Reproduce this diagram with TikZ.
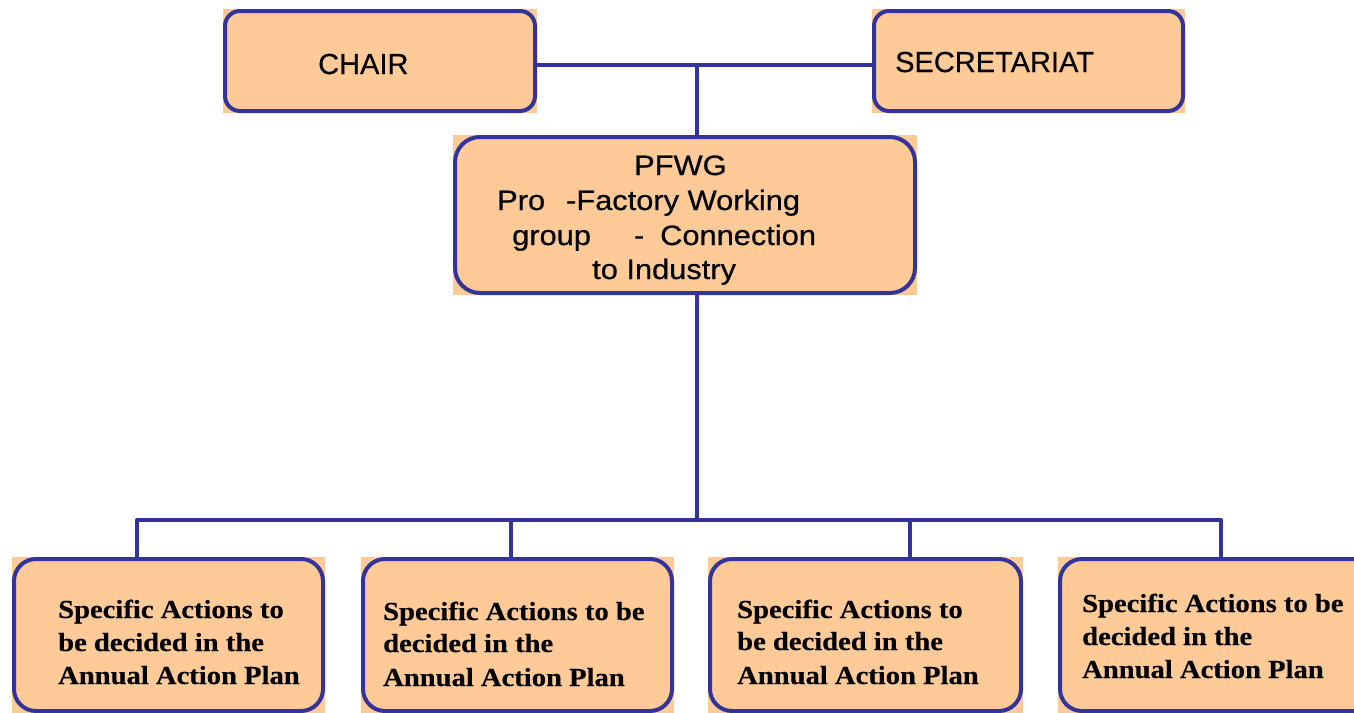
\documentclass[tikz,border=0pt]{standalone}
\usepackage{fontspec}
\setmainfont{Liberation Sans}
\newfontfamily\topfont[FakeBold=0.4]{Liberation Sans}
\newfontfamily\midfont[FakeStretch=1.1,FakeBold=0.6]{Liberation Sans}
\newfontfamily\lowfont[FakeStretch=1.1,FakeBold=0.4]{Liberation Serif Bold}
\usetikzlibrary{backgrounds}
\definecolor{peach}{HTML}{FECB98}
\definecolor{navy}{HTML}{333399}
\tikzset{
  orgbox/.style={draw=navy, line width=4pt, fill=peach, rounded corners=#1,
    inner sep=0pt, anchor=north west},
  conn/.style={draw=navy, line width=4pt, line join=round},
  toplbl/.style={anchor=base west, inner sep=0pt, font=\topfont\fontsize{29}{35}\selectfont},
  midlbl/.style={anchor=base west, inner sep=0pt, font=\midfont\fontsize{28}{35}\selectfont},
  lowlbl/.style={anchor=base west, inner sep=0pt, font=\lowfont\fontsize{26}{33}\selectfont},
}
\begin{document}
\begin{tikzpicture}[x=1pt,y=-1pt]
\useasboundingbox (0,0) rectangle (1354,712);
\clip (0,0) rectangle (1354,712);
% boxes
\node[orgbox=15pt, minimum width=310pt, minimum height=100pt] (chair) at (223,9) {};
\node[orgbox=15pt, minimum width=309pt, minimum height=100pt] (secr) at (872,9) {};
\node[orgbox=25pt, minimum width=460pt, minimum height=156pt] (pfwg) at (453,135) {};
\node[orgbox=22pt, minimum width=309pt, minimum height=152pt] (b1) at (12,557) {};
\node[orgbox=22pt, minimum width=309pt, minimum height=152pt] (b2) at (361,557) {};
\node[orgbox=22pt, minimum width=311pt, minimum height=152pt] (b3) at (708,557) {};
\node[orgbox=22pt, minimum width=330pt, minimum height=152pt] (b4) at (1058,557) {};
% square fill behind the rounded corners
\begin{scope}[on background layer]
  \foreach \n in {chair,secr,pfwg,b1,b2,b3,b4}
    \fill[peach] (\n.north west) rectangle (\n.south east);
\end{scope}
% connectors
\coordinate (top) at (697,65);
\coordinate (bus) at (697,520);
\coordinate (d1) at (137,520);
\coordinate (d2) at (511,520);
\coordinate (d3) at (910,520);
\coordinate (d4) at (1221,520);
\draw[conn] (chair.east |- top) -- (secr.west |- top);
\draw[conn] (top) -- (pfwg.north -| top);
\draw[conn] (pfwg.south -| bus) -- (bus);
\draw[conn] (b1.north -| d1) -- (d1) -- (d4) -- (b4.north -| d4);
\draw[conn] (d2) -- (b2.north -| d2);
\draw[conn] (d3) -- (b3.north -| d3);
% labels
\node[toplbl] (chairlbl) at (318,74) {CHAIR};
\node[toplbl] (secrlbl) at (895,72) {SECRETARIAT};
\node[midlbl] (p1) at (634,175) {PFWG};
\node[midlbl] (p2) at (497,210) {Pro\hspace{21pt}-Factory Working};
\node[midlbl] (p3) at (512,245) {group\hspace{43pt}-\hspace{16pt}Connection};
\node[midlbl] (p4) at (592,279) {to Industry};
\node[lowlbl] (t11) at (58,618) {Specific Actions to};
\node[lowlbl] (t12) at (58,651) {be decided in the};
\node[lowlbl] (t13) at (58,684) {Annual Action Plan};
\node[lowlbl] (t21) at (383,620) {Specific Actions to be};
\node[lowlbl] (t22) at (383,652) {decided in the};
\node[lowlbl] (t23) at (383,686) {Annual Action Plan};
\node[lowlbl] (t31) at (737,618) {Specific Actions to};
\node[lowlbl] (t32) at (737,650) {be decided in the};
\node[lowlbl] (t33) at (737,684) {Annual Action Plan};
\node[lowlbl] (t41) at (1082,612) {Specific Actions to be};
\node[lowlbl] (t42) at (1082,645) {decided in the};
\node[lowlbl] (t43) at (1082,678) {Annual Action Plan};
\end{tikzpicture}
\end{document}
